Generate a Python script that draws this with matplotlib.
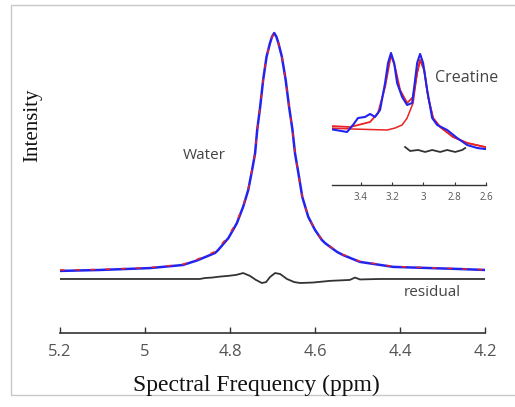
import matplotlib
matplotlib.use("Agg")
import matplotlib.pyplot as plt
from matplotlib.patches import Rectangle

# water region (ppm, normalised intensity)
water_ppm = [5.200, 5.106, 4.988, 4.911, 4.878, 4.859, 4.835, 4.828, 4.804, 4.784,
             4.769, 4.757, 4.748, 4.741, 4.736, 4.729, 4.722, 4.714, 4.706, 4.701,
             4.696, 4.691, 4.686, 4.678, 4.669, 4.661, 4.653, 4.647, 4.639, 4.630,
             4.616, 4.600, 4.584, 4.576, 4.548, 4.534, 4.494, 4.416, 4.259, 4.200]
water_data = [-0.004, 0.000, 0.008, 0.021, 0.040, 0.054, 0.072, 0.084, 0.134, 0.197,
              0.267, 0.338, 0.422, 0.492, 0.591, 0.689, 0.802, 0.900, 0.957, 0.985,
              1.000, 0.985, 0.957, 0.900, 0.802, 0.689, 0.591, 0.492, 0.408, 0.309,
              0.225, 0.169, 0.127, 0.113, 0.076, 0.063, 0.034, 0.013, 0.004, 0.000]
water_fit = [0.000, 0.002, 0.010, 0.024, 0.044, 0.059, 0.078, 0.092, 0.142, 0.205,
             0.272, 0.341, 0.424, 0.493, 0.591, 0.689, 0.801, 0.899, 0.956, 0.984,
             0.998, 0.984, 0.956, 0.899, 0.801, 0.688, 0.590, 0.491, 0.407, 0.309,
             0.226, 0.170, 0.129, 0.115, 0.078, 0.065, 0.036, 0.015, 0.005, 0.001]

resid_ppm = [5.200, 4.871, 4.859, 4.842, 4.824, 4.805, 4.786, 4.769, 4.753, 4.739,
             4.725, 4.715, 4.706, 4.694, 4.682, 4.666, 4.649, 4.635, 4.605, 4.565,
             4.518, 4.506, 4.494, 4.447, 4.200]
resid_val = [-0.038, -0.038, -0.034, -0.032, -0.028, -0.025, -0.021, -0.013, -0.025, -0.042,
             -0.055, -0.051, -0.030, -0.013, -0.017, -0.038, -0.051, -0.055, -0.053, -0.046,
             -0.042, -0.032, -0.040, -0.038, -0.038]

# creatine inset
cr_ppm = [3.597, 3.488, 3.450, 3.418, 3.373, 3.341, 3.309, 3.277, 3.245, 3.226,
          3.207, 3.187, 3.168, 3.136, 3.104, 3.072, 3.053, 3.040, 3.021, 3.002,
          2.976, 2.944, 2.912, 2.848, 2.784, 2.720, 2.656, 2.605]
cr_data = [0.122, 0.089, 0.167, 0.244, 0.256, 0.289, 0.256, 0.333, 0.633, 0.856,
           0.967, 0.856, 0.633, 0.478, 0.389, 0.411, 0.667, 0.856, 0.956, 0.856,
           0.556, 0.244, 0.167, 0.111, 0.022, -0.056, -0.089, -0.100]

fit_ppm = [3.597, 3.469, 3.341, 3.290, 3.245, 3.207, 3.181, 3.149, 3.104, 3.066,
           3.040, 3.021, 2.995, 2.970, 2.938, 2.893, 2.810, 2.720, 2.605]
fit_val = [0.156, 0.144, 0.200, 0.300, 0.589, 0.944, 0.811, 0.556, 0.411, 0.478,
           0.744, 0.889, 0.778, 0.478, 0.244, 0.144, 0.033, -0.033, -0.078]

comp_ppm = [3.597, 3.450, 3.232, 3.181, 3.136, 3.104, 3.066, 3.040, 3.021, 2.995,
            2.970, 2.938, 2.893, 2.810, 2.720, 2.605]
comp_val = [0.133, 0.122, 0.111, 0.133, 0.167, 0.244, 0.411, 0.744, 0.889, 0.778,
            0.478, 0.244, 0.144, 0.033, -0.033, -0.078]

cr_res_ppm = [3.117, 3.085, 3.034, 2.989, 2.944, 2.893, 2.848, 2.797, 2.752, 2.733]
cr_res_val = [-0.078, -0.122, -0.111, -0.133, -0.111, -0.133, -0.111, -0.133, -0.111, -0.089]

main_ticks = [5.2, 5.0, 4.8, 4.6, 4.4, 4.2]
main_labels = ["5.2", "5", "4.8", "4.6", "4.4", "4.2"]
inset_ticks = [3.4, 3.2, 3.0, 2.8, 2.6]
inset_labels = ["3.4", "3.2", "3", "2.8", "2.6"]

BLUE = "#2323f0"
RED = "#e82424"
DARK = "#333333"
GRAY = "#555555"

W, H = 515, 407
fig = plt.figure(figsize=(W / 100, H / 100), dpi=100)

def px(x0, y0, x1, y1):
    # pixel box (top-left origin) -> figure fraction rect
    return [x0 / W, 1 - y1 / H, (x1 - x0) / W, (y1 - y0) / H]

# light frame around the figure
fig.patches.append(Rectangle((11 / W, 1 - 395 / H), 520 / W, 390 / H,
                             transform=fig.transFigure, fill=False,
                             edgecolor="#c8c8c8", linewidth=1.0))

ax = fig.add_axes(px(60, 20, 485, 333))
ax.plot(water_ppm, water_data, color=BLUE, lw=1.8, solid_joinstyle="round")
ax.plot(water_ppm, water_fit, color=RED, lw=1.1, dashes=(3, 7))
ax.plot(resid_ppm, resid_val, color=DARK, lw=1.3)
ax.set_xlim(5.2, 4.2)
ax.set_ylim(-0.266, 1.055)
for s in ["top", "right", "left"]:
    ax.spines[s].set_visible(False)
ax.spines["bottom"].set_color(DARK)
ax.spines["bottom"].set_linewidth(1.2)
ax.set_yticks([])
ax.set_xticks(main_ticks)
ax.set_xticklabels(main_labels, fontfamily="Open Sans", fontsize=12, color=GRAY)
ax.tick_params(axis="x", direction="in", length=4, width=1.0, color=DARK, pad=8)
ax.patch.set_alpha(0)

ax.text(4.86, 0.485, "Water", fontfamily="Open Sans", fontsize=11, color="#444444",
        ha="center", va="center")
ax.text(4.325, -0.093, "residual", fontfamily="Open Sans", fontsize=11, color="#444444",
        ha="center", va="center")

fig.text(256 / W, 1 - 385 / H, "Spectral Frequency (ppm)", fontfamily="Liberation Serif",
         fontsize=17, ha="center", va="center", color="#111111")
fig.text(33 / W, 1 - 125 / H, "Intensity", fontfamily="Liberation Serif",
         fontsize=15, rotation=90, ha="center", va="center", color="#111111")

ins = fig.add_axes(px(331.7, 40, 486, 185))
ins.plot(comp_ppm, comp_val, color=RED, lw=1.1)
ins.plot(fit_ppm, fit_val, color=RED, lw=1.3)
ins.plot(cr_ppm, cr_data, color=BLUE, lw=1.5)
ins.plot(cr_res_ppm, cr_res_val, color=DARK, lw=1.3)
ins.set_xlim(3.586, 2.6)
ins.set_ylim(-0.5, 1.111)
for s in ["top", "right", "left"]:
    ins.spines[s].set_visible(False)
ins.spines["bottom"].set_color(DARK)
ins.spines["bottom"].set_linewidth(1.0)
ins.set_yticks([])
ins.set_xticks(inset_ticks)
ins.set_xticklabels(inset_labels, fontfamily="Open Sans", fontsize=7, color=GRAY)
ins.tick_params(axis="x", direction="in", length=2.5, width=0.8, color=DARK, pad=5)
ins.patch.set_alpha(0)
ins.text(2.727, 0.689, "Creatine", fontfamily="Open Sans", fontsize=11.5, color="#444444",
         ha="center", va="center")

fig.savefig("out.png", dpi=100)
